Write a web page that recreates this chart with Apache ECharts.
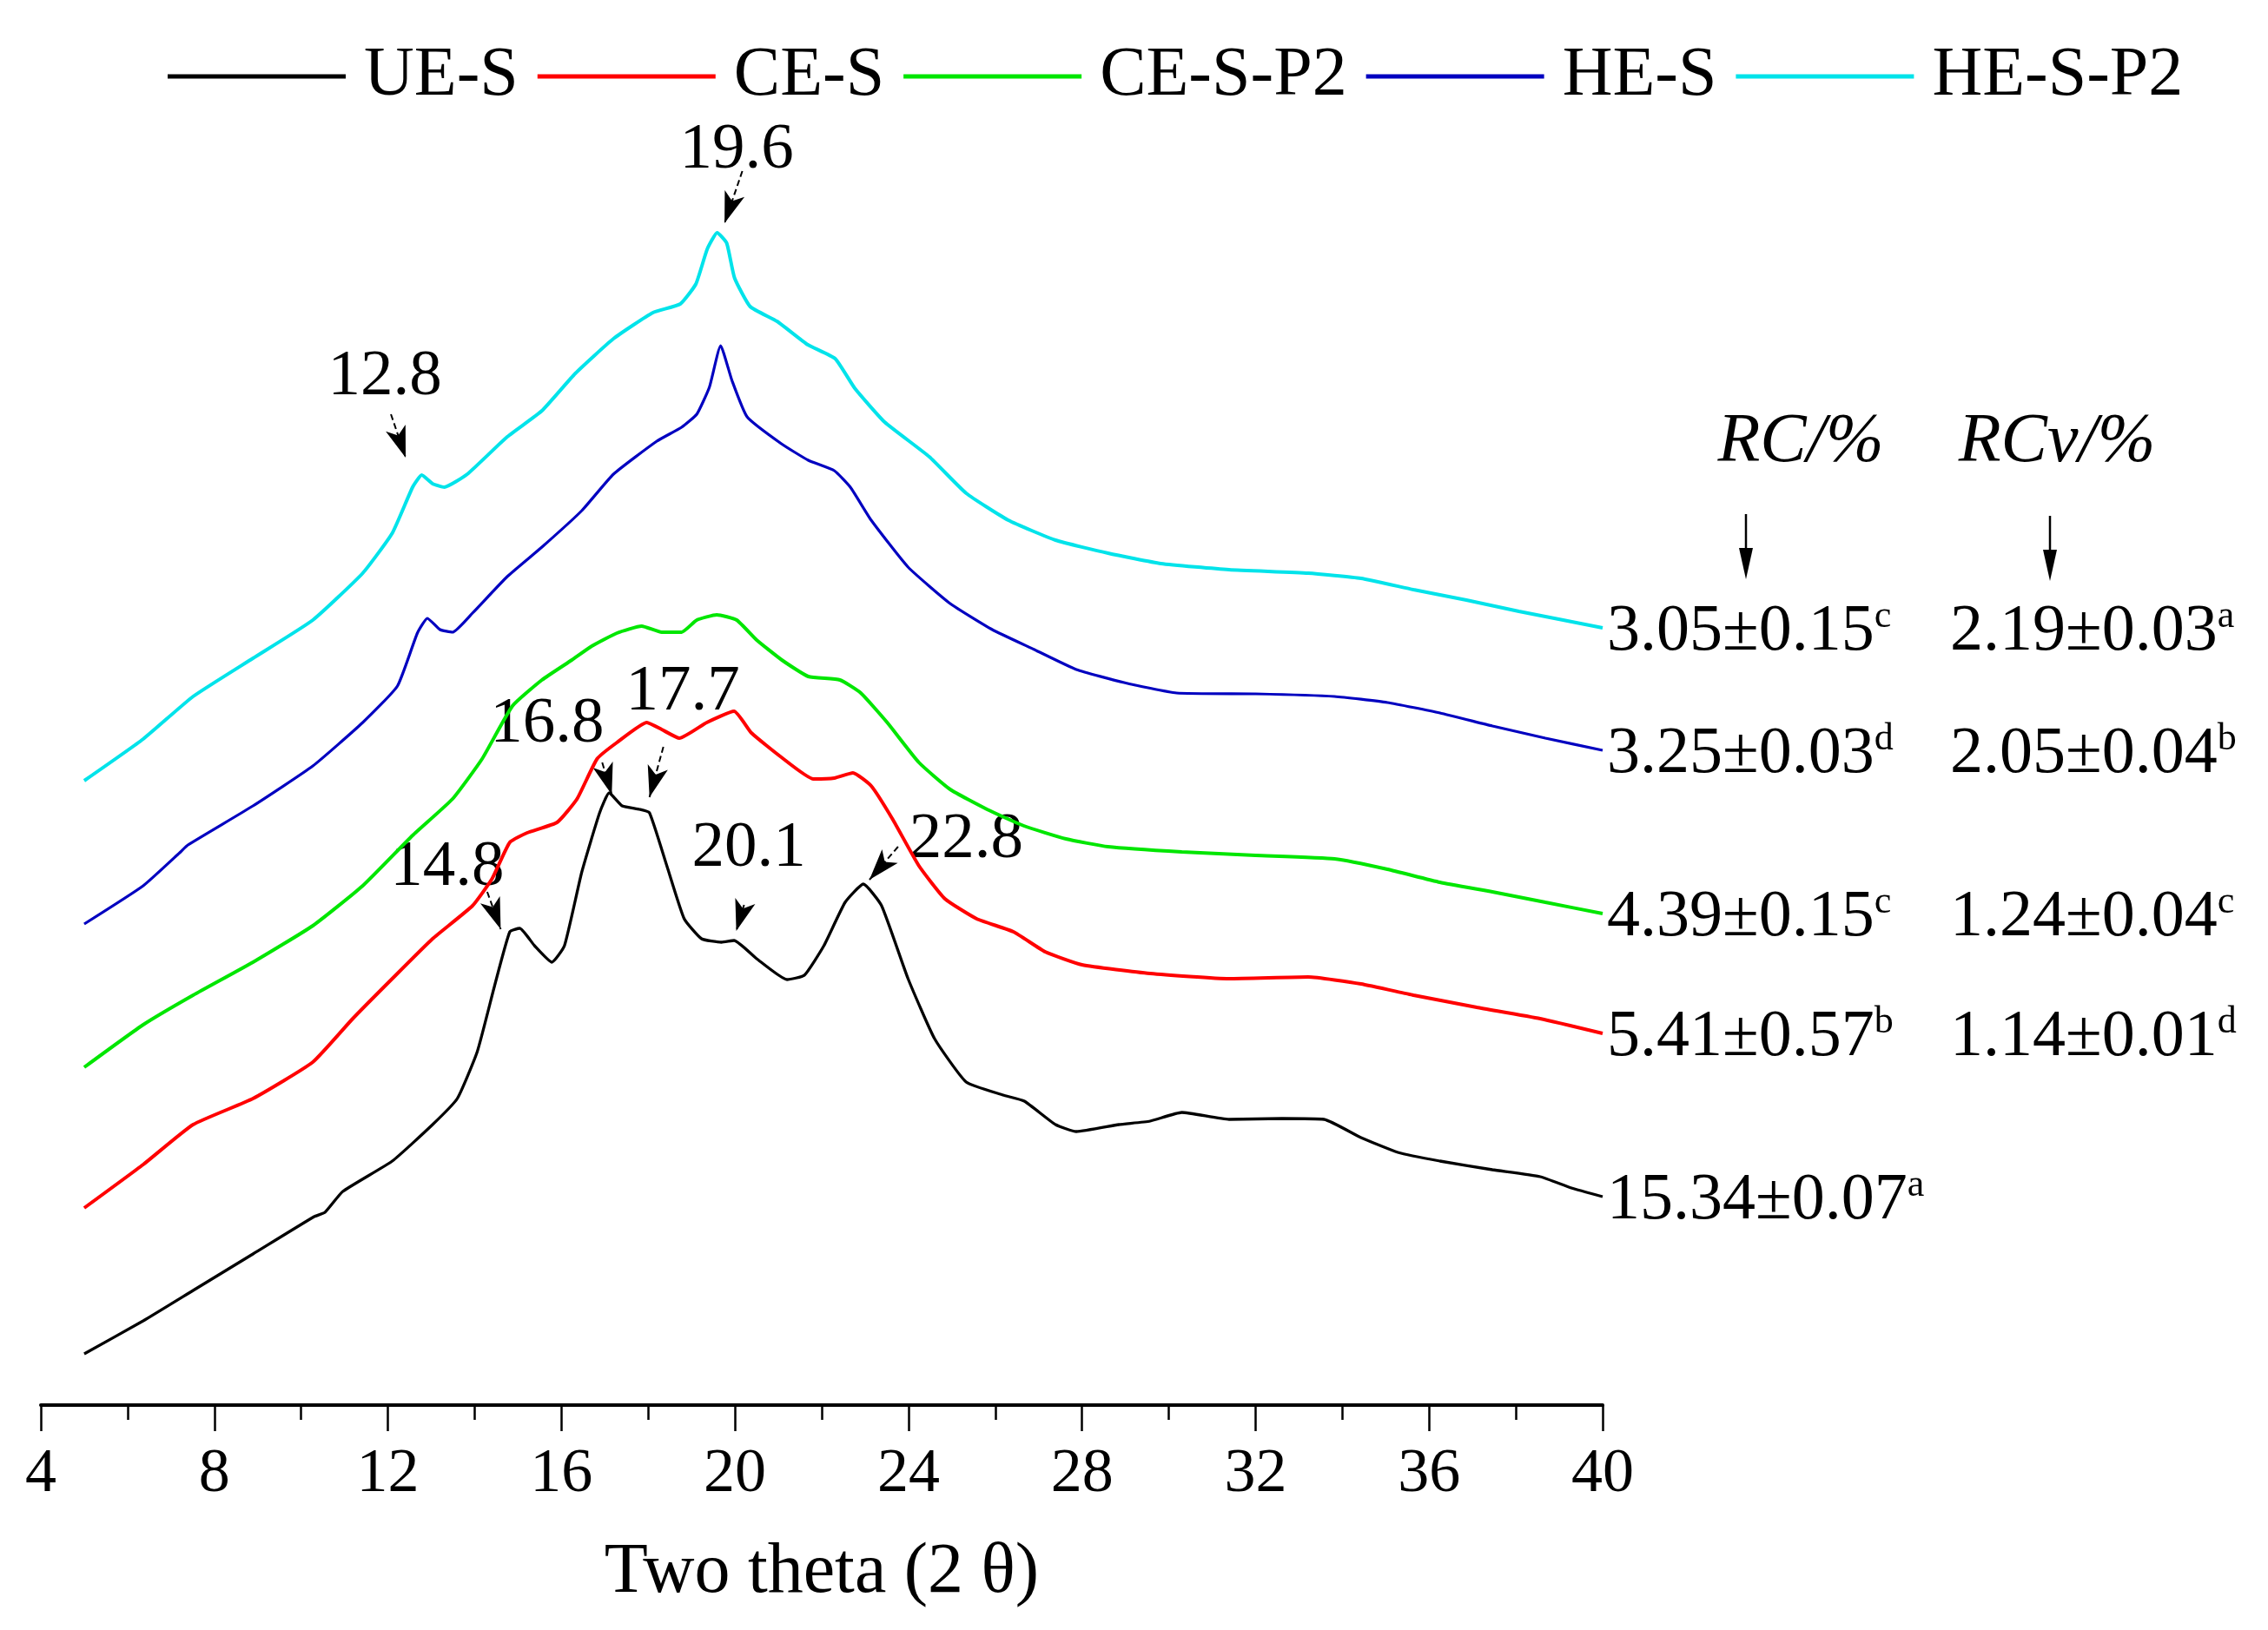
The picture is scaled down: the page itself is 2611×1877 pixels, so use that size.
<!DOCTYPE html>
<html><head><meta charset="utf-8">
<script src="https://cdn.jsdelivr.net/npm/echarts@6/dist/echarts.min.js"></script>
<style>html,body{margin:0;padding:0;background:#fff}#c{width:2611px;height:1877px}</style>
</head><body><div id="c"></div>
<script>
// ---------- data (2θ, intensity a.u. incl. vertical offset) ----------
const seriesNames = ['UE-S', 'CE-S', 'CE-S-P2', 'HE-S', 'HE-S-P2'];
const seriesColors = ['#000000', '#ff0000', '#00e600', '#0000c0', '#00e3ea'];
const seriesWidths = [3.3, 4, 4, 3.2, 4];

const ueS = [[5.0,59],[6.36,97],[7.51,132],[8.89,174],[10.3,217],[10.55,222],[10.96,246],[12.1,281],[13.03,323],[13.6,353],[14.06,407],[14.46,483],[14.81,545],[15.04,549],[15.38,529],[15.78,510],[16.07,529],[16.47,614],[16.88,682],[17.1,705],[17.4,690],[17.8,686],[18.03,682],[18.43,621],[18.83,560],[19.23,537],[19.69,533],[19.98,535],[20.5,514],[21.2,490],[21.6,495],[22.05,529],[22.54,579],[22.96,600],[23.38,575],[23.99,491],[24.6,422],[25.33,372],[26.18,357],[26.67,350],[27.39,323],[27.87,315],[28.85,323],[29.57,327],[30.3,337],[31.39,329],[32.61,330],[33.58,329],[34.43,308],[35.28,291],[36.25,281],[37.46,271],[38.56,263],[39.28,250],[40.0,240]];
const ceS = [[5.0,227],[6.36,277],[7.51,323],[8.89,353],[10.27,395],[11.19,445],[12.1,491],[13.03,537],[13.95,575],[14.4,606],[14.81,648],[15.21,659],[15.9,671],[16.36,698],[16.82,744],[17.28,763],[17.97,786],[18.31,778],[18.72,768],[19.35,786],[19.98,799],[20.38,774],[21.07,746],[21.81,721],[22.29,722],[22.72,728],[23.14,713],[23.63,675],[24.24,621],[24.84,583],[25.57,560],[26.42,545],[27.15,522],[28.0,507],[29.57,497],[31.39,491],[33.21,493],[34.43,485],[35.64,472],[37.1,458],[38.56,445],[40.0,428]];
const ceSP2 = [[5.0,389],[6.36,438],[7.51,472],[8.89,510],[10.27,552],[11.42,598],[12.57,656],[13.49,698],[14.17,744],[14.87,805],[15.55,835],[16.24,858],[16.7,874],[17.28,889],[17.85,897],[18.31,890],[18.77,890],[19.12,904],[19.58,910],[20.04,904],[20.5,881],[21.08,858],[21.69,839],[22.42,835],[22.9,820],[23.51,786],[24.24,740],[24.96,709],[25.81,686],[26.66,667],[27.63,652],[28.6,643],[30.3,637],[32.0,633],[33.82,629],[35.04,617],[36.25,602],[37.46,591],[38.68,579],[40.0,566]];
const heS = [[5.0,554],[6.36,598],[7.2,636],[7.39,645],[8.89,690],[10.27,736],[11.42,786],[12.22,828],[12.68,889],[12.91,906],[13.2,893],[13.49,890],[13.95,912],[14.75,954],[15.55,988],[16.47,1030],[17.2,1072],[18.2,1110],[18.77,1126],[19.12,1141],[19.41,1172],[19.67,1220],[19.93,1180],[20.28,1138],[21.07,1107],[21.69,1088],[22.29,1076],[22.66,1057],[23.14,1019],[23.99,965],[24.96,923],[25.93,893],[26.9,870],[27.87,847],[28.97,832],[30.18,820],[32.0,819],[33.82,816],[35.04,809],[36.25,797],[37.46,782],[38.68,768],[40.0,754]];
const heSP2 = [[5.0,719],[6.36,767],[7.51,816],[8.89,860],[10.27,904],[11.42,958],[12.1,1004],[12.57,1057],[12.78,1071],[13.03,1061],[13.3,1057],[13.83,1072],[14.75,1115],[15.55,1145],[16.32,1188],[17.2,1228],[18.11,1258],[18.74,1268],[19.1,1291],[19.36,1331],[19.59,1350],[19.81,1338],[19.99,1298],[20.35,1265],[20.97,1248],[21.68,1221],[22.31,1205],[22.76,1171],[23.45,1132],[24.48,1092],[25.33,1050],[26.3,1019],[27.39,996],[28.6,981],[29.82,969],[31.39,962],[33.21,958],[34.43,952],[35.64,939],[36.86,927],[38.07,914],[40.0,895]];
const seriesData = [ueS, ceS, ceSP2, heS, heSP2];

// crystallinity table (same order as series)
const rcValues = ['15.34±0.07', '5.41±0.57', '4.39±0.15', '3.25±0.03', '3.05±0.15'];
const rcLetters = ['a', 'b', 'c', 'd', 'c'];
const rcvValues = ['', '1.14±0.01', '1.24±0.04', '2.05±0.04', '2.19±0.03'];
const rcvLetters = ['', 'd', 'c', 'b', 'a'];

// peak annotations
const peakLabels = ['12.8', '14.8', '16.8', '17.7', '19.6', '20.1', '22.8'];
const peakLabelPos = [[11.93,1184],[13.37,619],[15.67,784],[18.8,821],[20.04,1445],[20.32,641],[25.33,651]];
const peakArrowFrom = [[12.07,1141],[14.29,591],[16.94,740],[18.35,758],[20.17,1421],[20.21,576],[23.76,643]];
const peakArrowTo = [[12.41,1091],[14.6,548],[17.16,703],[18.03,700],[19.76,1361],[20.03,546],[23.1,605]];

// ---------- chart ----------
const FONT = '"Liberation Serif", "Times New Roman", serif';
const chart = echarts.init(document.getElementById('c'), null, {renderer: 'canvas'});

const series = seriesNames.map((n, i) => ({
  name: n, type: 'line', data: seriesData[i], symbol: 'none', showSymbol: false,
  smooth: 0.15,
  lineStyle: {color: seriesColors[i], width: seriesWidths[i]}, itemStyle: {color: seriesColors[i]},
  z: 10 - i, silent: true
}));
series.push({
  name: 'annotations', type: 'line', data: [], symbol: 'none', silent: true, z: 20,
  markLine: {
    silent: true, animation: false, symbol: ['none', 'arrow'], symbolSize: [18, 36],
    lineStyle: {color: '#000', width: 2, type: [7, 4]},
    label: {show: false},
    data: peakArrowFrom.map((f, i) => [{coord: f}, {coord: peakArrowTo[i]}])
  },
  markPoint: {
    silent: true, animation: false, symbol: 'circle', symbolSize: 1,
    itemStyle: {color: 'rgba(0,0,0,0)'},
    label: {show: true, position: 'inside', formatter: '{b}', fontSize: 75, fontFamily: FONT, color: '#000'},
    data: peakLabels.map((t, i) => ({name: t, coord: peakLabelPos[i]}))
  }
});

chart.setOption({
  animation: false,
  backgroundColor: '#fff',
  legend: {
    data: seriesNames, left: 188, top: 43, icon: 'rect', itemWidth: 205, itemHeight: 5, itemGap: 22,
    textStyle: {fontSize: 80, fontFamily: FONT, color: '#000', padding: [0, 0, 0, 16]}
  },
  grid: {left: 47, right: 766, top: 0, bottom: 259, containLabel: false},
  xAxis: {
    type: 'value', min: 4, max: 40, interval: 4,
    name: 'Two theta (2 θ)', nameLocation: 'middle', nameGap: 152,
    nameTextStyle: {fontSize: 82, fontFamily: FONT, color: '#000'},
    axisLine: {show: true, onZero: false, lineStyle: {color: '#000', width: 4}},
    axisTick: {show: true, length: 30, lineStyle: {color: '#000', width: 2.5}},
    minorTick: {show: true, splitNumber: 2, length: 17, lineStyle: {color: '#000', width: 2.5}},
    axisLabel: {fontSize: 72, fontFamily: FONT, color: '#000', margin: 44},
    splitLine: {show: false}, minorSplitLine: {show: false}
  },
  yAxis: {type: 'value', min: 0, max: 1618, show: false, splitLine: {show: false}},
  series: series
});

// ---------- RC / RCv table placed at the curve ends ----------
const ends = seriesData.map(d => chart.convertToPixel({gridIndex: 0}, d[d.length - 1]));
const px = ends[0][0];
const row0 = ends[4][1];
const g = [];
function valText(x, y, main, sup) {
  g.push({
    type: 'text', x: x, y: y, silent: true,
    style: {
      text: '{m|' + main + '}{s|' + sup + '}',
      align: 'left', textAlign: 'left', verticalAlign: 'middle', textVerticalAlign: 'middle',
      fill: '#000',
      rich: {
        m: {fontSize: 76, fontFamily: FONT, fill: '#000', lineHeight: 80},
        s: {fontSize: 44, fontFamily: FONT, fill: '#000', verticalAlign: 'top', lineHeight: 40}
      }
    }
  });
}
ends.forEach((e, i) => {
  valText(px + 5, e[1] + 5, rcValues[i], rcLetters[i]);
  if (rcvValues[i]) valText(px + 400, e[1] + 5, rcvValues[i], rcvLetters[i]);
});
[['RC/%', px + 228], ['RCv/%', px + 523]].forEach(h => {
  g.push({type: 'text', x: h[1], y: row0 - 213, silent: true,
    style: {text: h[0], fontSize: 80, fontFamily: FONT, fontStyle: 'italic', fill: '#000',
      align: 'center', textAlign: 'center', verticalAlign: 'middle', textVerticalAlign: 'middle'}});
});
[[px + 165, row0 - 131, row0 - 56], [px + 515, row0 - 129, row0 - 54]].forEach(a => {
  g.push({type: 'line', silent: true, shape: {x1: a[0], y1: a[1], x2: a[0], y2: a[2] - 20},
    style: {stroke: '#000', lineWidth: 2.5}});
  g.push({type: 'polygon', silent: true,
    shape: {points: [[a[0] - 8, a[2] - 36], [a[0] + 8, a[2] - 36], [a[0], a[2]]]},
    style: {fill: '#000'}});
});
chart.setOption({graphic: g});
</script>
</body></html>
